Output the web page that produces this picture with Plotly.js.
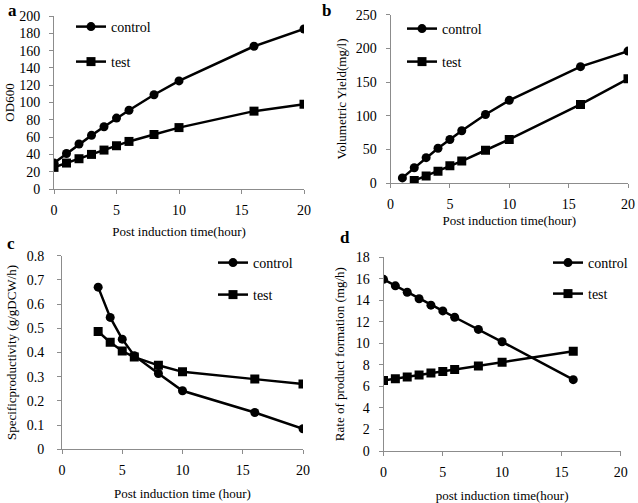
<!DOCTYPE html>
<html>
<head>
<meta charset="utf-8">
<script src="https://cdn.plot.ly/plotly-3.0.1.min.js"></script>
<style>html,body{margin:0;padding:0;background:#fff;}#chart{width:638px;height:503px;}</style>
</head>
<body>
<div id="chart"></div>
<script>
// ---- data ----
const timeA = [0, 1, 2, 3, 4, 5, 6, 8, 10, 16, 20];
const odControl = [30, 41, 52, 62, 72, 82, 91, 109, 125, 165, 185];
const odTest = [25, 30, 35, 40, 45, 50, 55, 63, 71, 90, 98];

const timeBControl = [1, 2, 3, 4, 5, 6, 8, 10, 16, 20];
const yieldControl = [8, 23, 38, 52, 65, 78, 102, 123, 173, 196];
const timeBTest = [2, 3, 4, 5, 6, 8, 10, 16, 20];
const yieldTest = [4, 11, 18, 26, 33, 49, 65, 117, 155];

const timeC = [3, 4, 5, 6, 8, 10, 16, 20];
const specControl = [0.67, 0.545, 0.455, 0.387, 0.313, 0.242, 0.152, 0.085];
const specTest = [0.487, 0.442, 0.406, 0.381, 0.347, 0.32, 0.29, 0.27];

const timeD = [0, 1, 2, 3, 4, 5, 6, 8, 10, 16];
const rateControl = [15.95, 15.35, 14.75, 14.15, 13.55, 13.02, 12.43, 11.3, 10.15, 6.63];
const rateTest = [6.55, 6.72, 6.88, 7.07, 7.25, 7.38, 7.57, 7.9, 8.25, 9.27];

const seriesNames = ["control", "test"];
const panelLetters = ["a", "b", "c", "d"];

// ---- layout helpers ----
const W = 638, H = 503;
const FONT = "Liberation Serif";
const px = v => v / W;
const py = v => 1 - v / H;

function trace(x, y, name, symbol, xa, ya, legend) {
  return {
    x: x, y: y, name: name, type: "scatter", mode: "lines+markers",
    xaxis: xa, yaxis: ya, legend: legend,
    line: {color: "#000", width: 2.5},
    marker: {symbol: symbol, size: 9, color: "#000"}
  };
}

const data = [
  trace(timeA, odControl, seriesNames[0], "circle", "x", "y", "legend"),
  trace(timeA, odTest, seriesNames[1], "square", "x", "y", "legend2"),
  trace(timeBControl, yieldControl, seriesNames[0], "circle", "x2", "y2", "legend3"),
  trace(timeBTest, yieldTest, seriesNames[1], "square", "x2", "y2", "legend4"),
  trace(timeC, specControl, seriesNames[0], "circle", "x3", "y3", "legend5"),
  trace(timeC, specTest, seriesNames[1], "square", "x3", "y3", "legend6"),
  trace(timeD, rateControl, seriesNames[0], "circle", "x4", "y4", "legend7"),
  trace(timeD, rateTest, seriesNames[1], "square", "x4", "y4", "legend8")
];

function withStandoff(t, s) {
  if (s !== null) t.standoff = s;
  return t;
}
function xax(l, r, anchor, title, standoff) {
  return {
    domain: [px(l), px(r)], anchor: anchor, range: [0, 20], dtick: 5, tick0: 0,
    showgrid: false, zeroline: false, showline: true, linecolor: "#8c8c8c", linewidth: 1,
    ticks: "outside", ticklen: 4, tickcolor: "#8c8c8c", ticklabelstandoff: 4,
    tickfont: {family: FONT, size: 14, color: "#000"},
    title: withStandoff({text: title, font: {family: FONT, size: 13, color: "#000"}}, standoff),
    automargin: false, fixedrange: true
  };
}
function yax(b, t, anchor, range, dtick, title, lblStandoff, standoff) {
  return {
    domain: [py(b), py(t)], anchor: anchor, range: range, dtick: dtick, tick0: 0,
    showgrid: false, zeroline: false, showline: true, linecolor: "#8c8c8c", linewidth: 1,
    ticks: "outside", ticklen: 4, tickcolor: "#8c8c8c", ticklabelstandoff: lblStandoff,
    tickfont: {family: FONT, size: 14, color: "#000"},
    title: withStandoff({text: title, font: {family: FONT, size: 13, color: "#000"}}, standoff),
    automargin: false, fixedrange: true
  };
}
function leg(textLeft, yc) {
  return {
    x: px(textLeft - 41), y: py(yc), xanchor: "left", yanchor: "middle",
    bgcolor: "rgba(0,0,0,0)", borderwidth: 0, itemwidth: 30,
    font: {family: FONT, size: 14, color: "#000"}
  };
}
function letter(t, x, y) {
  return {text: "<b>" + t + "</b>", x: px(x), y: py(y), xref: "paper", yref: "paper",
          xanchor: "center", yanchor: "middle", showarrow: false,
          font: {family: FONT, size: 17, color: "#000"}};
}

const layout = {
  width: W, height: H, margin: {l: 0, r: 0, t: 0, b: 0},
  paper_bgcolor: "#fff", plot_bgcolor: "#fff",
  font: {family: FONT, color: "#000"},
  xaxis: xax(54, 304, "y", "Post induction time(hour)", 10),
  yaxis: yax(189, 16, "x", [0, 200], 20, "OD600", 6, null),
  xaxis2: xax(390.5, 628, "y2", "Post induction time(hour)", 4),
  yaxis2: yax(183.3, 14.7, "x2", [0, 250], 50, "Volumetric Yield(mg/l)", 6, 6),
  xaxis3: xax(62, 303, "y3", "Post induction time (hour)", null),
  yaxis3: yax(449.3, 255.7, "x3", [0, 0.8], 0.1, "Specificproductivity (g/gDCW/h)", 10, 7),
  xaxis4: xax(383.5, 620.7, "y4", "post induction time(hour)", null),
  yaxis4: yax(451, 257.3, "x4", [0, 18], 2, "Rate of product formation (mg/h)", 6, 8),
  legend: leg(112, 27), legend2: leg(112, 62),
  legend3: leg(443, 29), legend4: leg(443, 62),
  legend5: leg(254, 263), legend6: leg(254, 295),
  legend7: leg(589, 263), legend8: leg(589, 294),
  annotations: [
    letter(panelLetters[0], 12, 10), letter(panelLetters[1], 327, 10),
    letter(panelLetters[2], 11, 243), letter(panelLetters[3], 345, 237)
  ],
  showlegend: true
};

Plotly.newPlot("chart", data, layout, {displayModeBar: false, staticPlot: true});
</script>
</body>
</html>
